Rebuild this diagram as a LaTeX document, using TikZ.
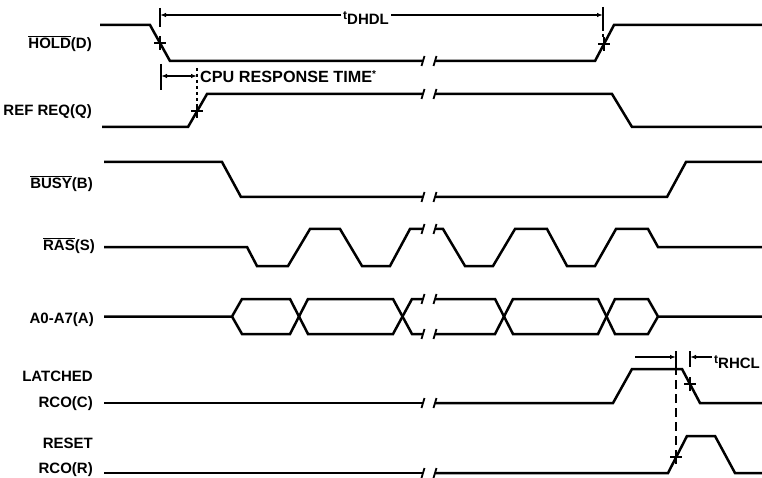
\documentclass[tikz,border=0pt]{standalone}
\usepackage{fontspec}
\setmainfont{Liberation Sans}
\usetikzlibrary{arrows.meta}
\newcommand\ovl[1]{$\overline{\hbox{#1}}$}
\begin{document}
\begin{tikzpicture}[x=1pt,y=-1pt,
  sig/.style={line width=2.5pt},
  lab/.style={font=\fontsize{15}{15}\selectfont\bfseries, inner sep=0pt, anchor=base east},
  txt/.style={font=\fontsize{15}{15}\selectfont\bfseries, inner sep=0pt, anchor=base west},
  dimln/.style={line width=1.4pt},
  ext/.style={line width=1.3pt},
  tickm/.style={line width=2pt},
  brk/.style={line width=1.8pt},
  arr/.style={dimln, -{Latex[length=6pt,width=4.5pt]}},
  darr/.style={dimln, {Latex[length=6pt,width=4.5pt]}-{Latex[length=6pt,width=4.5pt]}},
]
\useasboundingbox (0,0) rectangle (762,478);
\newcommand\crs[1]{\draw[tickm] ([xshift=-6pt]#1) -- ([xshift=6pt]#1) ([yshift=-7pt]#1) -- ([yshift=7pt]#1);}

% labels
\node[lab] (lhold) at (92,48.4) {\ovl{HOLD}(D)};
\node[lab] (lref)  at (92,116) {REF REQ(Q)};
\node[lab] (lbusy) at (93,188.4) {\ovl{BUSY}(B)};
\node[lab] (lras)  at (95,250.4) {\ovl{RAS}(S)};
\node[lab] (la)    at (94,323) {A0-A7(A)};
\node[lab] (llat)  at (93,381.5) {LATCHED};
\node[lab] (lrcoc) at (93,407) {RCO(C)};
\node[lab] (lres)  at (93,448) {RESET};
\node[lab] (lrcor) at (93,473) {RCO(R)};

% HOLD
\draw[sig] (100,25) -- (150,25) -- (170,61) -- (423,61);
\draw[sig] (435,61) -- (595,61) -- (614,25) -- (762,25);
% REF REQ
\draw[sig] (102,127) -- (188,127) -- (207,94) -- (423,94);
\draw[sig] (435,94) -- (612,94) -- (632,127) -- (762,127);
% BUSY
\draw[sig] (104,162) -- (222,162) -- (241,197) -- (423,197);
\draw[sig] (435,197) -- (667,197) -- (686,162) -- (762,162);
% RAS
\draw[sig] (104,247) -- (247,247) -- (257,266) -- (288,266) -- (310,229) -- (340,229) -- (362,266) -- (390,266) -- (410,229) -- (423,229);
\draw[sig] (435,229) -- (443,229) -- (465,266) -- (493,266) -- (515,229) -- (547,229) -- (567,266) -- (595,266) -- (616,229) -- (648,229) -- (658,247) -- (762,247);
% A0-A7
\draw[sig] (104,316.5) -- (232,316.5) -- (242,299) -- (290,299) -- (308,334) -- (393,334) -- (412,299) -- (423,299);
\draw[sig] (232,316.5) -- (242,334) -- (290,334) -- (308,299) -- (393,299) -- (412,334) -- (423,334);
\draw[sig] (435,299) -- (495,299) -- (513,334) -- (598,334) -- (615,299) -- (648,299) -- (658,316.5) -- (762,316.5);
\draw[sig] (435,334) -- (495,334) -- (513,299) -- (598,299) -- (615,334) -- (648,334) -- (658,316.5);
% LATCHED RCO
\draw[sig] (104,403) -- (423,403);
\draw[sig] (435,403) -- (613,403) -- (632,369) -- (682,369) -- (700,403) -- (762,403);
% RESET RCO
\draw[sig] (104,473) -- (423,473);
\draw[sig] (435,473) -- (668,473) -- (687,436) -- (715,436) -- (735,473) -- (762,473);

% break marks
\foreach \y in {61,94,197,229,299,334,403,473} {
  \draw[brk] (421.5,\y+5) -- (424.5,\y-5);
  \draw[brk] (433.5,\y+5) -- (436.5,\y-5);
}

% tDHDL
\coordinate (dL) at (160,15);
\coordinate (dR) at (603,15);
\draw[ext] (160,8) -- (160,27);
\draw[ext] (603,7) -- (603,28);
\draw[ext, dashed] (603,28) -- (603,38);
\node[txt] (tdhdl) at (343,25) {\raisebox{5pt}{\fontsize{12}{12}\selectfont t}DHDL};
\draw[arr] ([xshift=-2pt]tdhdl.west |- dL) -- (dL);
\draw[arr] ([xshift=2pt]tdhdl.east |- dR) -- (dR);
\coordinate (xh1) at (160,43);
\coordinate (xh2) at (604,44);
\crs{xh1}
\crs{xh2}

% CPU response time
\coordinate (cL) at (161,76);
\coordinate (cR) at (197,76);
\draw[ext] (161,64) -- (161,90);
\draw[ext, dashed] (197,68) -- (197,104);
\draw[darr] (cL) -- (cR);
\coordinate (xq) at (197,111);
\crs{xq}
\node[txt, font=\fontsize{16.2}{16}\selectfont\bfseries] (cpu) at (200,83) {CPU RESPONSE TIME\raisebox{5pt}{\fontsize{10}{10}\selectfont *}};

% tRHCL
\coordinate (rL) at (676,357);
\coordinate (rR) at (690,357);
\coordinate (rLs) at (635,357);
\coordinate (rRs) at (712,357);
\draw[ext] (676,351) -- (676,366);
\draw[ext, dash pattern=on 9pt off 5pt] (676,366) -- (676,450);
\draw[ext] (690,351) -- (690,367);
\draw[arr] (rLs) -- (rL);
\draw[arr] (rRs) -- (rR);
\coordinate (xc) at (690,384);
\coordinate (xr) at (676,457);
\crs{xc}
\crs{xr}
\node[txt] (trhcl) at (714,368) {\raisebox{5pt}{\fontsize{12}{12}\selectfont t}RHCL};
\end{tikzpicture}
\end{document}
